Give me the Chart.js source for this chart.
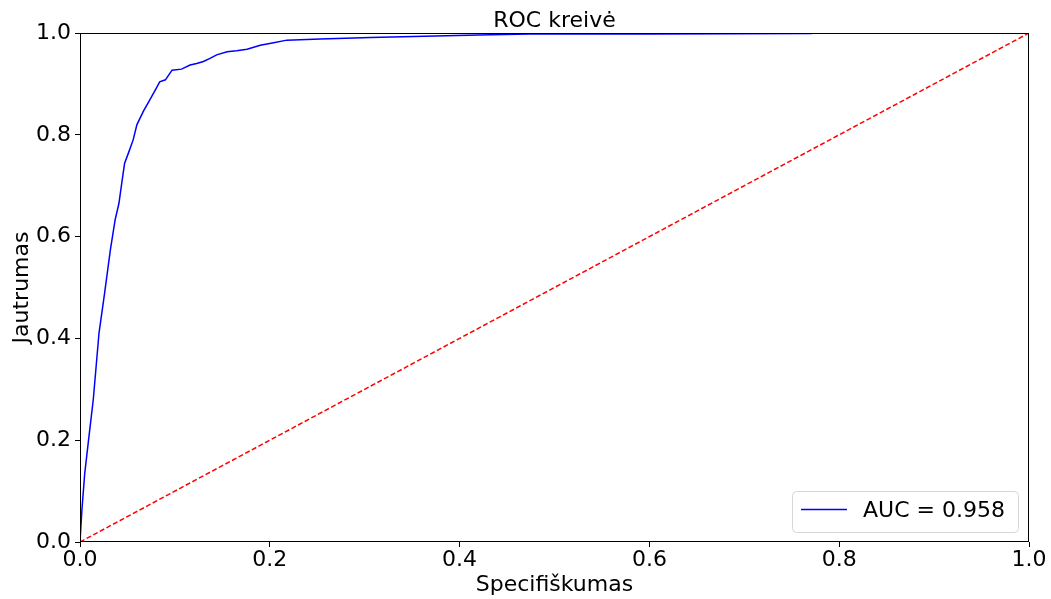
<!DOCTYPE html>
<html lang="lt">
<head>
    <meta charset="UTF-8">
    <title>ROC kreivė</title>
    <script src="https://cdn.jsdelivr.net/npm/chart.js"></script>
    <style>
        html, body { margin: 0; padding: 0; background: #fff; }
        .chart-container { position: relative; width: 1051px; height: 599px; }
    </style>
</head>
<body>
    <div class="chart-container">
        <canvas id="rocChart"></canvas>
    </div>

    <script>
        // ROC kreivės taškai (nuskaityti nuo paveikslo)
        const fpr = [0, 0.002, 0.005, 0.009, 0.014, 0.020, 0.026, 0.032, 0.037, 0.041, 0.044, 0.047,
                     0.051, 0.056, 0.060, 0.067, 0.074, 0.080, 0.084, 0.090, 0.097, 0.107, 0.116,
                     0.123, 0.130, 0.137, 0.144, 0.155, 0.165, 0.176, 0.190, 0.204, 0.218, 0.253,
                     0.306, 0.42, 0.474, 0.60, 0.77, 0.775, 1.0];
        const tpr = [0, 0.063, 0.135, 0.20, 0.28, 0.41, 0.49, 0.574, 0.633, 0.665, 0.705, 0.744,
                     0.764, 0.79, 0.82, 0.847, 0.870, 0.89, 0.904, 0.908, 0.927, 0.929, 0.937,
                     0.940, 0.944, 0.950, 0.957, 0.963, 0.965, 0.968, 0.976, 0.981, 0.986, 0.988,
                     0.991, 0.996, 0.998, 0.998, 0.999, 1.0, 1.0];
        const diagX = [0, 1];
        const diagY = [0, 1];
        const ticks = [0, 0.2, 0.4, 0.6, 0.8, 1.0];
        const titleText = 'ROC kreivė';
        const aucLabel = 'AUC = 0.958';

        const FONT = "'DejaVu Sans', sans-serif";

        // pavadinimas ir rėmelis aplink brėžinio sritį
        const framePlugin = {
            id: 'frame',
            afterDatasetsDraw(chart) {
                const { ctx, chartArea: a } = chart;
                ctx.save();
                ctx.strokeStyle = '#000';
                ctx.lineWidth = 1;
                ctx.strokeRect(a.left + 0.5, a.top + 0.5, a.right - a.left - 1, a.bottom - a.top - 1);
                ctx.fillStyle = '#000';
                ctx.font = '22px ' + FONT;
                ctx.textAlign = 'center';
                ctx.textBaseline = 'alphabetic';
                ctx.fillText(titleText, (a.left + a.right) / 2, 27);
                ctx.restore();
            }
        };

        // legenda apatiniame dešiniajame kampe (kaip matplotlib)
        const legendPlugin = {
            id: 'innerLegend',
            afterDraw(chart) {
                const { ctx } = chart;
                const ds = chart.data.datasets[0];
                const x = 792, y = 491, w = 226, h = 41, r = 4;
                ctx.save();
                ctx.beginPath();
                ctx.roundRect(x + 0.5, y + 0.5, w, h, r);
                ctx.fillStyle = 'rgba(255,255,255,0.8)';
                ctx.fill();
                ctx.strokeStyle = '#d6d6d6';
                ctx.lineWidth = 1;
                ctx.stroke();
                ctx.beginPath();
                ctx.moveTo(801, 509.5);
                ctx.lineTo(847, 509.5);
                ctx.strokeStyle = ds.borderColor;
                ctx.lineWidth = 1.5;
                ctx.stroke();
                ctx.fillStyle = '#000';
                ctx.font = '22px ' + FONT;
                ctx.textBaseline = 'middle';
                ctx.fillText(ds.label, 863, 511);
                ctx.restore();
            }
        };

        const toPoints = (xs, ys) => xs.map((v, i) => ({ x: v, y: ys[i] }));

        new Chart(document.getElementById('rocChart'), {
            type: 'scatter',
            data: {
                datasets: [
                    {
                        label: aucLabel,
                        data: toPoints(fpr, tpr),
                        showLine: true,
                        borderColor: '#0000ff',
                        borderWidth: 1.5,
                        pointRadius: 0,
                        tension: 0
                    },
                    {
                        label: 'diag',
                        data: toPoints(diagX, diagY),
                        showLine: true,
                        borderColor: '#ff0000',
                        borderWidth: 1.5,
                        borderDash: [5, 2.5],
                        pointRadius: 0
                    }
                ]
            },
            options: {
                responsive: true,
                maintainAspectRatio: false,
                animation: false,
                layout: { padding: { left: 0, right: 22, top: 33, bottom: 0 } },
                plugins: {
                    legend: { display: false },
                    tooltip: { enabled: false },
                    title: { display: false }
                },
                scales: {
                    x: {
                        type: 'linear',
                        min: 0, max: 1,
                        afterBuildTicks: s => { s.ticks = ticks.map(v => ({ value: v })); },
                        afterFit: s => { s.height = 57; },
                        ticks: {
                            color: '#000',
                            font: { family: FONT, size: 22 },
                            padding: 0,
                            maxRotation: 0,
                            callback: v => v.toFixed(1)
                        },
                        grid: { drawOnChartArea: false, drawTicks: true, tickLength: 5, color: '#000' },
                        border: { display: false },
                        title: {
                            display: true,
                            text: 'Specifiškumas',
                            color: '#000',
                            font: { family: FONT, size: 22 },
                            padding: { top: 0, bottom: 1 }
                        }
                    },
                    y: {
                        type: 'linear',
                        min: 0, max: 1,
                        afterBuildTicks: s => { s.ticks = ticks.map(v => ({ value: v })); },
                        afterFit: s => { s.width = 80; },
                        ticks: {
                            color: '#000',
                            font: { family: FONT, size: 22 },
                            padding: 4,
                            callback: v => v.toFixed(1)
                        },
                        grid: { drawOnChartArea: false, drawTicks: true, tickLength: 5, color: '#000' },
                        border: { display: false },
                        title: {
                            display: true,
                            text: 'Jautrumas',
                            color: '#000',
                            font: { family: FONT, size: 22 },
                            padding: { top: 9, bottom: 0 }
                        }
                    }
                }
            },
            plugins: [framePlugin, legendPlugin]
        });
    </script>
</body>
</html>
